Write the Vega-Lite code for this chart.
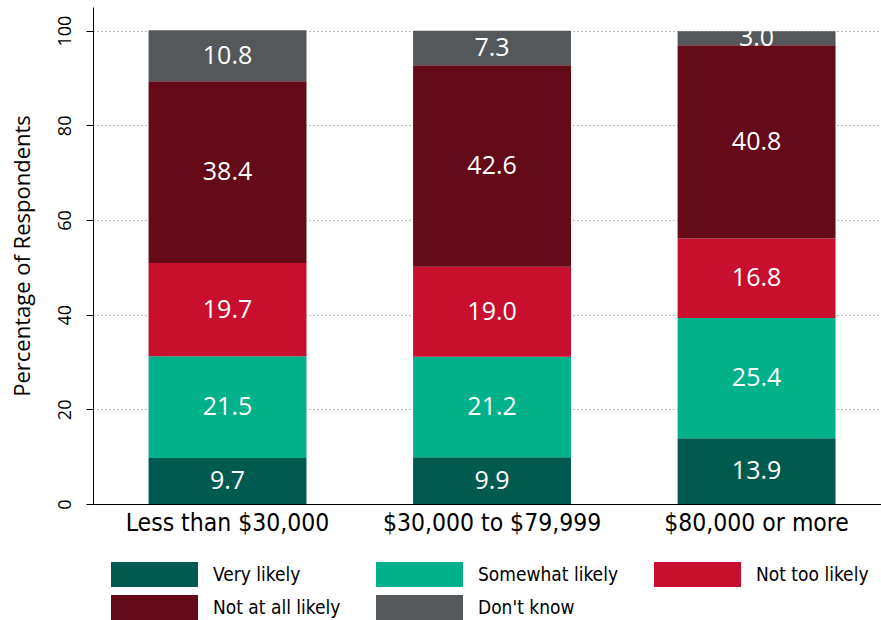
{
  "$schema": "https://vega.github.io/schema/vega-lite/v6.json",
  "width": 788,
  "height": 497,
  "autosize": {"type": "none"},
  "padding": {"left": 93, "top": 7, "right": 0, "bottom": 116},
  "background": "white",
  "config": {
    "font": "Open Sans",
    "view": {"stroke": null},
    "axisY": {
      "titleFontSize": 22,
      "titleFontWeight": "normal",
      "titleColor": "#000000",
      "titlePadding": 22,
      "labelAngle": -90,
      "labelAlign": "center",
      "labelBaseline": "bottom",
      "labelFontSize": 18,
      "labelColor": "#000000",
      "labelPadding": 12,
      "tickSize": 7,
      "tickColor": "#000000",
      "domainColor": "#000000",
      "grid": true,
      "gridColor": "#777777",
      "gridDash": [1, 3],
      "gridWidth": 1
    },
    "axisX": {
      "labelAngle": 0,
      "labelFont": "DejaVu Sans Condensed, DejaVu Sans",
      "labelFontSize": 24.5,
      "labelColor": "#000000",
      "labelPadding": 7,
      "labelLimit": 0,
      "ticks": false,
      "domainColor": "#000000",
      "grid": false
    }
  },
  "data": {
    "values": [
      {"income": "Less than $30,000", "response": "Very likely", "order": 1, "pct": 9.7},
      {"income": "Less than $30,000", "response": "Somewhat likely", "order": 2, "pct": 21.5},
      {"income": "Less than $30,000", "response": "Not too likely", "order": 3, "pct": 19.7},
      {"income": "Less than $30,000", "response": "Not at all likely", "order": 4, "pct": 38.4},
      {"income": "Less than $30,000", "response": "Don't know", "order": 5, "pct": 10.8},
      {"income": "$30,000 to $79,999", "response": "Very likely", "order": 1, "pct": 9.9},
      {"income": "$30,000 to $79,999", "response": "Somewhat likely", "order": 2, "pct": 21.2},
      {"income": "$30,000 to $79,999", "response": "Not too likely", "order": 3, "pct": 19.0},
      {"income": "$30,000 to $79,999", "response": "Not at all likely", "order": 4, "pct": 42.6},
      {"income": "$30,000 to $79,999", "response": "Don't know", "order": 5, "pct": 7.3},
      {"income": "$80,000 or more", "response": "Very likely", "order": 1, "pct": 13.9},
      {"income": "$80,000 or more", "response": "Somewhat likely", "order": 2, "pct": 25.4},
      {"income": "$80,000 or more", "response": "Not too likely", "order": 3, "pct": 16.8},
      {"income": "$80,000 or more", "response": "Not at all likely", "order": 4, "pct": 40.8},
      {"income": "$80,000 or more", "response": "Don't know", "order": 5, "pct": 3.0}
    ]
  },
  "transform": [
    {"stack": "pct", "groupby": ["income"], "sort": [{"field": "order", "order": "ascending"}], "as": ["v0", "v1"]},
    {"calculate": "(datum.v0 + datum.v1) / 2", "as": "mid"}
  ],
  "encoding": {
    "x": {
      "field": "income",
      "type": "nominal",
      "sort": ["Less than $30,000", "$30,000 to $79,999", "$80,000 or more"],
      "scale": {"paddingInner": 0.403, "paddingOuter": 0.191, "align": 0.55},
      "axis": {"title": null}
    }
  },
  "layer": [
    {
      "mark": {"type": "bar"},
      "encoding": {
        "y": {
          "field": "v0",
          "type": "quantitative",
          "scale": {"domain": [0, 105], "nice": false},
          "axis": {
            "title": "Percentage of Respondents",
            "values": [0, 20, 40, 60, 80, 100],
            "labelFontSize": 18,
            "labelAngle": -90
          }
        },
        "y2": {"field": "v1"},
        "color": {
          "field": "response",
          "type": "nominal",
          "scale": {
            "domain": ["Very likely", "Somewhat likely", "Not too likely", "Not at all likely", "Don't know"],
            "range": ["#005a50", "#00b18a", "#c8102e", "#640a19", "#54585a"]
          },
          "legend": {
            "title": null,
            "orient": "none",
            "legendX": 49,
            "legendY": 555,
            "direction": "horizontal",
            "columns": 3,
            "symbolType": "M-3.48,-1H3.48V1H-3.48Z",
            "symbolSize": 625,
            "symbolStrokeWidth": 0,
            "labelFont": "DejaVu Sans Condensed, DejaVu Sans",
            "labelFontSize": 19,
            "labelColor": "#000000",
            "labelOffset": 46,
            "columnPadding": 35,
            "rowPadding": 8,
            "labelLimit": 300
          }
        }
      }
    },
    {
      "mark": {"type": "text", "color": "white", "fontSize": 25, "baseline": "middle"},
      "encoding": {
        "y": {"field": "mid", "type": "quantitative", "axis": {"labelFontSize": 18, "labelAngle": -90, "values": [0, 20, 40, 60, 80, 100]}},
        "text": {"field": "pct", "type": "quantitative", "format": ".1f"}
      }
    }
  ]
}
